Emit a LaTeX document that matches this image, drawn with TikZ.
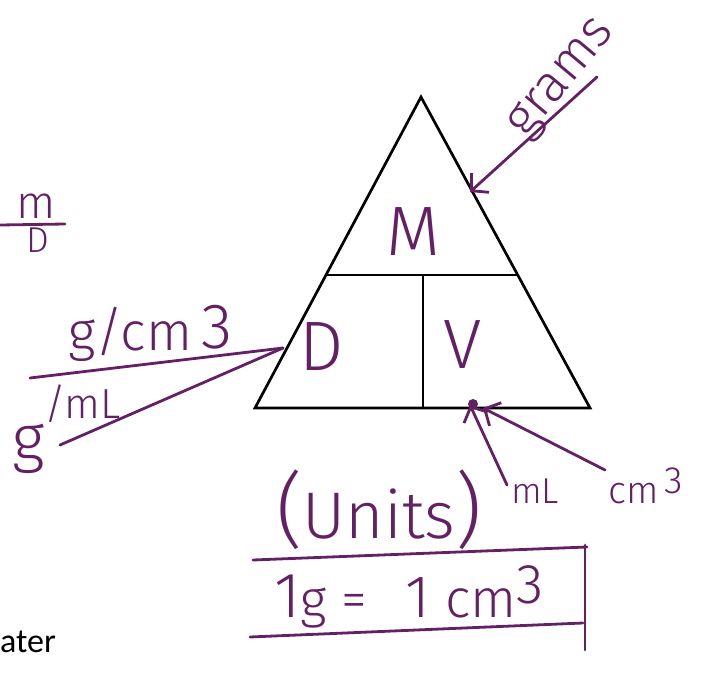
\documentclass[tikz,border=0pt]{standalone}
\usepackage{fontspec}
\usetikzlibrary{arrows.meta}
\IfFontExistsTF{Fira Sans Light}{\newfontfamily\hand{Fira Sans Light}}{\newfontfamily\hand{Open Sans}}
\newfontfamily\calib{Carlito}
\definecolor{ink}{RGB}{100,32,100}
\newcommand\hsz[1]{\fontsize{#1}{#1}\selectfont}
\begin{document}
\begin{tikzpicture}[x=1pt,y=-1pt,
  hw/.style={text=ink,font=\hand,inner sep=0pt},
  tri/.style={draw=black,line width=2.7pt,line join=miter},
  pen/.style={draw=ink,line width=2.8pt,line cap=round},
  barb/.style={-{Straight Barb[length=12pt,width=26pt,line width=2.8pt]}}
]
\useasboundingbox (0,0) rectangle (702,677);
\fill[white] (0,0) rectangle (702,677);
% triangle
\coordinate (A) at (421,97);
\coordinate (BL) at (255,408);
\coordinate (BR) at (590,408);
\coordinate (ML) at (326,275);
\coordinate (MR) at (517,275);
\coordinate (MT) at (423,275);
\coordinate (MB) at (423,408);
\draw[tri] (A) -- (BL) -- (BR) -- cycle;
\draw[tri] (ML) -- (MR);
\draw[tri] (MT) -- (MB);
% letters
\node[hw,anchor=base] (M) at (413,255) {\hsz{70}M};
\node[hw,anchor=base] (D) at (322,370) {\hsz{70}D};
\node[hw,anchor=base] (V) at (463,368) {\hsz{70}V};
% fraction
\node[hw,anchor=base] (fm) at (36,218) {\hsz{46}m};
\coordinate (fl1) at (0,225);
\coordinate (fl2) at (65,224);
\draw[pen] (fl1) -- (fl2);
\node[hw,anchor=base] (fD) at (38,252) {\hsz{36}D};
% grams
\node[hw,rotate=50] (grams) at (563,80) {\hsz{52}grams};
\coordinate (gtail) at (597,77);
\coordinate (gtip) at (470,192);
\draw[pen,barb] (gtail) -- (gtip);
% density units
\node[hw,anchor=base west] (gcm) at (68,350) {\hsz{54}g/cm\,\raisebox{2pt}{\hsz{64}3}};
\node[hw,anchor=base west] (gml) at (12,460) {\hsz{64}g\raisebox{42pt}{\hsz{42}/mL}};
\coordinate (Dpt) at (283,348);
\coordinate (l1) at (30,378);
\coordinate (l2) at (60,445);
\draw[pen] (l1) -- (Dpt);
\draw[pen] (l2) -- (Dpt);
% volume units
\node[hw,anchor=base west] (mL) at (511,503) {\hsz{36}mL};
\node[hw,anchor=base west] (cm3) at (608,503) {\hsz{38}cm\,\raisebox{10pt}{3}};
\coordinate (v1) at (470,405);
\coordinate (v2) at (483,408);
\coordinate (mlt) at (507,485);
\coordinate (cmt) at (605,470);
\draw[pen,barb] (mlt) -- (v1);
\draw[pen,barb] (cmt) -- (v2);
\fill[ink] (473,404) circle (5);
% units
\node[hw,anchor=base west] (units) at (276,538) {\hsz{82}(\hsz{66}Units\hsz{82})};
% equation box
\node[hw,anchor=base west] (eq) at (274,617) {\hsz{64}1\hsz{52}g = \hspace{24pt}\hsz{60}1\hsz{54} cm\raisebox{14pt}{\hsz{56}3}};
\coordinate (bt1) at (253,560);
\coordinate (bt2) at (587,547);
\coordinate (bb1) at (250,637);
\coordinate (bb2) at (583,623);
\coordinate (br1) at (585,545);
\coordinate (br2) at (585,650);
\draw[pen] (bt1) -- (bt2);
\draw[pen] (bb1) -- (bb2);
\draw[pen] (br1) -- (br2);
% cut-off printed text
\node[anchor=base west,inner sep=0pt,font=\calib,text=black] (ater) at (0,652) {\hsz{34}ater};
\end{tikzpicture}
\end{document}
